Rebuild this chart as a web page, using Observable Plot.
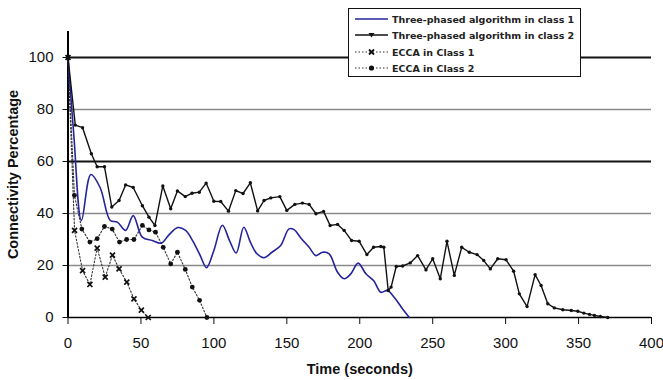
<!DOCTYPE html>
<html>
<head>
<meta charset="utf-8">
<script src="https://cdn.jsdelivr.net/npm/d3@7"></script>
<script src="https://cdn.jsdelivr.net/npm/@observablehq/plot@0.6"></script>
<style>
  html, body { margin: 0; padding: 0; background: #fff; }
  #wrap { position: relative; width: 663px; height: 380px; overflow: hidden; }
  #wrap svg { display: block; }
  g[aria-label="x-axis label"] text, g[aria-label="y-axis label"] text { font-weight: bold; font-size: 14.5px; }
  .legend { position: absolute; left: 348px; top: 8px; width: 231px; height: 67px;
    background: #fff; border: 1.5px solid #111; box-sizing: content-box; }
  .legend .row { position: absolute; left: 0; height: 14px; display: flex; align-items: center; }
  .legend .row span { font: bold 9.5px "DejaVu Sans", sans-serif; color: #222; white-space: nowrap; margin-left: 3px; }
</style>
</head>
<body>
<div id="wrap"></div>
<script>
// ---- data ----
const xTicks = [0, 50, 100, 150, 200, 250, 300, 350, 400];
const yTicks = [0, 20, 40, 60, 80, 100];
const gridDark = [60, 100];
const gridLight = [20, 40, 80];

const seriesNames = [
  "Three-phased algorithm in class 1",
  "Three-phased algorithm in class 2",
  "ECCA in Class 1",
  "ECCA in Class 2"
];

// Three-phased algorithm in class 1 (smoothed blue line)
const tp1Time = [0, 4, 9.2, 15.7, 22, 29, 33.8, 39.5, 44.7, 50.9, 57.8, 64, 69.5, 75.3, 80.6, 85.5, 90.5, 95, 100, 105.8, 110.8, 115.3, 120.5, 125, 129.5, 134.4, 139.8, 145.8, 151.5, 155, 159.6, 165.3, 170, 174.5, 179, 184.8, 189.3, 193.9, 198.9, 204.2, 209.5, 214.5, 219, 223.6, 229.4, 234];
const tp1Value = [100, 70, 37.3, 55, 50, 37.3, 36.7, 33.5, 39.2, 30.9, 29.6, 28.6, 32, 34.6, 33.5, 29.5, 24, 19.2, 25.8, 35.5, 29.5, 24.8, 34.7, 29, 24.5, 23, 25.1, 27.7, 34.1, 33.8, 30.6, 27, 23.8, 25.1, 24.5, 17.4, 14.9, 16.8, 20.9, 16.8, 14.2, 9.7, 10.4, 7.8, 3.3, 0];

// Three-phased algorithm in class 2 (solid black line with markers)
const tp2Time = [0, 5, 10, 16, 20, 25, 30, 35, 39.5, 44.7, 51, 55.5, 59.6, 65, 70.4, 75, 80.4, 85, 90, 94.7, 100, 104.7, 110, 115, 120, 125, 130, 134.4, 139, 145.2, 150, 155.5, 160.7, 165.3, 170, 175.2, 179.7, 184.8, 189.3, 194.4, 199.6, 204.9, 209.5, 214.5, 216.5, 219.5, 221.5, 225, 229.4, 234.6, 239.7, 245.4, 250, 255.2, 259.8, 264.8, 269.9, 275.1, 280.4, 285, 289.5, 294.6, 300.3, 305.5, 309.4, 314.7, 320.2, 324.3, 328.9, 333.4, 339.2, 345, 349.5, 353.6, 357.5, 360.9, 365, 370];
const tp2Value = [100, 74, 73, 63, 58, 58, 42.5, 45, 51, 50, 43, 38.6, 35.4, 50.6, 41.8, 48.7, 46.5, 47.8, 48.2, 51.7, 44.7, 44.6, 40.9, 48.8, 47.7, 51.8, 41, 45, 46, 46.5, 41.2, 43.5, 44, 43.5, 39.9, 40.8, 35.4, 35.8, 33.5, 29.6, 29.3, 24.2, 27, 27.3, 27, 10.4, 11.7, 19.6, 19.8, 21, 23.8, 18.3, 22.6, 14.9, 29.3, 16.2, 27, 25.1, 24.2, 21.9, 18.7, 22.6, 22.2, 17.8, 9.1, 4.2, 16.5, 12.3, 5.3, 3.7, 3, 2.7, 2.4, 1.7, 1.2, 0.8, 0.4, 0];

// ECCA in Class 1
const ecca1Time = [0, 4.5, 10, 15, 20, 25.5, 30.5, 35, 40.3, 45.2, 50.3, 55];
const ecca1Value = [100, 33.5, 18, 12.7, 26.7, 15.5, 24, 18.7, 13.6, 7.2, 2.8, 0];

// ECCA in Class 2
const ecca2Time = [0, 4.4, 9.5, 15, 20, 25, 30.3, 35.3, 40.2, 45.2, 51, 55.5, 60, 65.3, 70.4, 75, 80.4, 85.2, 90.2, 95.2];
const ecca2Value = [100, 47, 34, 29, 30.3, 35, 34, 29, 30, 30, 35.4, 33.7, 32.8, 27, 20.6, 25.1, 18.5, 11.7, 6.6, 0];

// ---- build tables ----
const zip = (ts, vs) => ts.map((t, i) => ({t, v: vs[i]}));
const tp1 = zip(tp1Time, tp1Value);
const tp2 = zip(tp2Time, tp2Value);
const ecca1 = zip(ecca1Time, ecca1Value);
const ecca2 = zip(ecca2Time, ecca2Value);

const BLUE = "#24249a";
const DOT = "#333";

const chart = Plot.plot({
  width: 663,
  height: 380,
  marginLeft: 67.5,
  marginRight: 12,
  marginTop: 31,
  marginBottom: 63,
  style: { fontFamily: "'Liberation Sans', Arial, sans-serif", fontSize: "15px", color: "#111", background: "#fff" },
  x: { domain: [0, 400] },
  y: { domain: [0, 110] },
  marks: [
    Plot.ruleY(gridLight, { stroke: "#8a8a8a", strokeWidth: 1.4 }),
    Plot.ruleY(gridDark, { stroke: "#111", strokeWidth: 2 }),
    Plot.axisX({ ticks: xTicks, tickSize: 7, tickPadding: 13, fontSize: 15, label: "Time (seconds)", labelAnchor: "center", labelArrow: "none", labelOffset: 56 }),
    Plot.axisY({ ticks: yTicks, tickSize: 5, tickPadding: 9.5, fontSize: 15, label: "Connectivity Percentage", labelAnchor: "center", labelArrow: "none", labelOffset: 60 }),
    Plot.ruleX([0], { stroke: "#000", strokeWidth: 2 }),
    Plot.ruleY([0], { stroke: "#000", strokeWidth: 1.5 }),
    // ECCA class 1
    Plot.line(ecca1, { x: "t", y: "v", stroke: DOT, strokeWidth: 1.1, strokeDasharray: "1.5,2" }),
    Plot.dot(ecca1, { x: "t", y: "v", symbol: "times", r: 2.4, stroke: "#111", strokeWidth: 1.7 }),
    // ECCA class 2
    Plot.line(ecca2, { x: "t", y: "v", stroke: DOT, strokeWidth: 1.1, strokeDasharray: "1.5,2" }),
    Plot.dot(ecca2, { x: "t", y: "v", r: 2.4, fill: "#111" }),
    // Three-phased class 1
    Plot.line(tp1, { x: "t", y: "v", stroke: BLUE, strokeWidth: 1.6, curve: "catmull-rom" }),
    // Three-phased class 2
    Plot.line(tp2, { x: "t", y: "v", stroke: "#111", strokeWidth: 1.4 }),
    Plot.dot(tp2, { x: "t", y: "v", r: 1.7, fill: "#111" })
  ]
});

const wrap = document.getElementById("wrap");
wrap.appendChild(chart);

// ---- legend ----
const legend = document.createElement("div");
legend.className = "legend";
const rowsTop = [3, 19, 36, 52];
const swatches = [
  `<line x1="0" y1="7" x2="33" y2="7" stroke="${BLUE}" stroke-width="1.6"/>`,
  `<line x1="0" y1="7" x2="33" y2="7" stroke="#111" stroke-width="1.3"/><path d="M13.5,5 L19.5,5 L16.5,9.5 Z" fill="#111"/>`,
  `<line x1="0" y1="7" x2="33" y2="7" stroke="${DOT}" stroke-width="1.2" stroke-dasharray="1.5,2"/><path d="M14,4.5 L19,9.5 M19,4.5 L14,9.5" stroke="#111" stroke-width="1.8"/>`,
  `<line x1="0" y1="7" x2="33" y2="7" stroke="${DOT}" stroke-width="1.2" stroke-dasharray="1.5,2"/><circle cx="16.5" cy="7" r="2.6" fill="#111"/>`
];
seriesNames.forEach((name, i) => {
  const row = document.createElement("div");
  row.className = "row";
  row.style.top = rowsTop[i] + "px";
  row.style.left = "6px";
  row.innerHTML = `<svg width="34" height="14">${swatches[i]}</svg><span>${name}</span>`;
  legend.appendChild(row);
});
wrap.appendChild(legend);
</script>
</body>
</html>
